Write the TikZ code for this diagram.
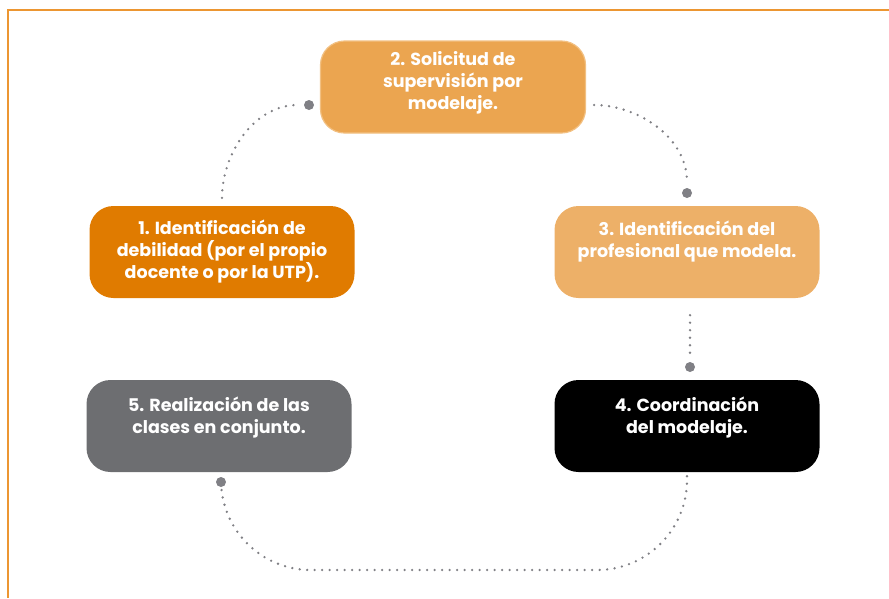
\documentclass[tikz,border=0pt]{standalone}
\usepackage{fontspec}
\setmainfont{Poppins}
\usetikzlibrary{arrows}

\definecolor{marco}{RGB}{236,150,50}
\definecolor{naranjaosc}{RGB}{224,123,0}
\definecolor{naranjamed}{RGB}{235,165,80}
\definecolor{naranjaclaro}{RGB}{237,176,104}
\definecolor{bordeclaro}{RGB}{242,192,130}
\definecolor{grisbox}{RGB}{109,110,113}
\definecolor{puntogris}{RGB}{128,128,133}

\begin{document}
\begin{tikzpicture}[x=1pt,y=-1pt]
				\tikzstyle{pasobox} = [rounded corners=24pt, minimum width=265pt, minimum height=92pt, inner sep=0pt, align=center, text=white, font=\fontsize{17.5}{22}\selectfont\bfseries]
				\tikzstyle{punto} = [circle, fill=puntogris, inner sep=0pt, minimum size=10pt]
				\tikzstyle{puntolinea} = [draw=puntogris, line width=2.6pt, line cap=round, dash pattern=on 0pt off 7.5pt]
				
				\useasboundingbox (0,0) rectangle (889,598);
				\draw [marco, line width=1.5pt] (889,10) -- (8,10) -- (8,598);
				
				\node [pasobox, fill=naranjaosc] (P1) at (222,252) {1. Identificación de\\debilidad (por el propio\\docente o por la UTP).};
				\node [pasobox, fill=naranjamed, draw=bordeclaro, line width=1.2pt] (P2) at (453,87) {2. Solicitud de\\supervisión por\\modelaje.\\[-8pt]\mbox{}};
				\node [pasobox, fill=naranjaclaro] (P3) at (687,252) {3. Identificación del\\profesional que modela.\\[4pt]\mbox{}};
				\node [pasobox, fill=black] (P4) at (687,426) {4. Coordinación\\del modelaje.\\\mbox{}};
				\node [pasobox, fill=grisbox] (P5) at (219,426) {5. Realización de las\\clases en conjunto.\\\mbox{}};
				
				\node [punto] (D1) at (309,105) {};
				\node [punto] (D2) at (687,193) {};
				\node [punto] (D3) at (690,367) {};
				\node [punto] (D4) at (221,482) {};
				\coordinate (B) at (450,570);
				
				\draw [puntolinea, shorten <=8pt, shorten >=6pt] (P1.north) to[out=90,in=180] (D1);
				\draw [puntolinea, shorten <=8pt, shorten >=6pt] ([yshift=-18pt]P2.east) to[out=0,in=90] (D2);
				\draw [puntolinea, shorten <=17pt, shorten >=6pt] ([xshift=3pt]P3.south) -- (D3);
				\draw [puntolinea, rounded corners=90pt, shorten <=4pt, shorten >=6pt] (P4.south) |- (B) -| (D4);
				
				\end{tikzpicture}
\end{document}
